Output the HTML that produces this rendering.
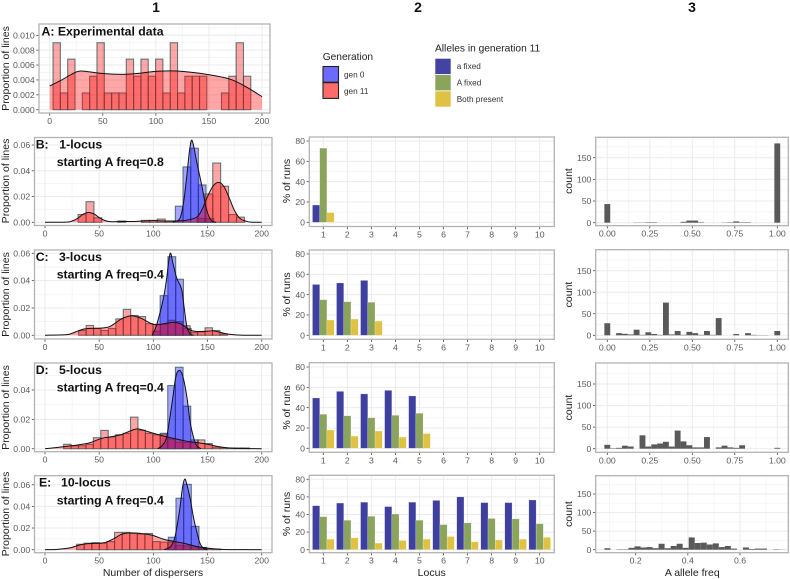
<!DOCTYPE html>
<html>
<head>
<meta charset="utf-8">
<title>Dispersers chart</title>
<style>
html,body{margin:0;padding:0;background:#fff;}
svg{display:block;font-family:"Liberation Sans",sans-serif;filter:blur(0.3px);}
.hdr{font-size:14px;font-weight:bold;fill:#111;text-anchor:middle;}
.lbl{font-size:12.27px;font-weight:bold;fill:#111;}
.axt{font-size:10.5px;fill:#222;text-anchor:middle;}
.tick{font-size:8.7px;fill:#5a5a5a;}
.legt{font-size:10.2px;fill:#222;}
.legl{font-size:8.2px;fill:#333;}
</style>
</head>
<body>
<svg id="chart" width="790" height="579" viewBox="0 0 790 579" xmlns="http://www.w3.org/2000/svg">
<rect x="0" y="0" width="790" height="579" fill="#fff"/>
<g id="marks"></g>

<text class="hdr" x="156" y="12">1</text>
<text class="hdr" x="418" y="12">2</text>
<text class="hdr" x="692" y="12">3</text>

<text class="lbl" x="41.5" y="35.5">A: Experimental data</text>
<text class="lbl" x="35.7" y="148.3">B:</text>
<text class="lbl" x="59.3" y="148.3">1-locus</text>
<text class="lbl" x="56.7" y="166">starting A freq=0.8</text>
<text class="lbl" x="35.7" y="261">C:</text>
<text class="lbl" x="59" y="261">3-locus</text>
<text class="lbl" x="56.7" y="278.3">starting A freq=0.4</text>
<text class="lbl" x="35.7" y="374">D:</text>
<text class="lbl" x="59" y="374">5-locus</text>
<text class="lbl" x="56.7" y="391.7">starting A freq=0.4</text>
<text class="lbl" x="39" y="486.7">E:</text>
<text class="lbl" x="61" y="486.7">10-locus</text>
<text class="lbl" x="56.7" y="504.3">starting A freq=0.4</text>

<text class="axt" transform="translate(9,68.5) rotate(-90)">Proportion of lines</text>
<text class="axt" transform="translate(9,181) rotate(-90)">Proportion of lines</text>
<text class="axt" transform="translate(9,294.5) rotate(-90)">Proportion of lines</text>
<text class="axt" transform="translate(9,407.5) rotate(-90)">Proportion of lines</text>
<text class="axt" transform="translate(9,514) rotate(-90)">Proportion of lines</text>

<text class="axt" transform="translate(290,181) rotate(-90)">% of runs</text>
<text class="axt" transform="translate(290,294.5) rotate(-90)">% of runs</text>
<text class="axt" transform="translate(290,407.5) rotate(-90)">% of runs</text>
<text class="axt" transform="translate(290,514) rotate(-90)">% of runs</text>

<text class="axt" transform="translate(572,181) rotate(-90)">count</text>
<text class="axt" transform="translate(572,294.5) rotate(-90)">count</text>
<text class="axt" transform="translate(572,407.5) rotate(-90)">count</text>
<text class="axt" transform="translate(572,514) rotate(-90)">count</text>

<text class="axt" x="153" y="576">Number of dispersers</text>
<text class="axt" x="431.7" y="576">Locus</text>
<text class="axt" x="692.3" y="576">A allele freq</text>

<g>
  <text class="legt" x="322.7" y="60">Generation</text>
  <rect x="323" y="66.5" width="15.5" height="15.7" fill="#6b6bff" stroke="#222" stroke-width="1.1"/>
  <rect x="323" y="82.7" width="15.5" height="15.7" fill="#ff6b6b" stroke="#222" stroke-width="1.1"/>
  <text class="legl" x="344" y="77.5">gen 0</text>
  <text class="legl" x="344" y="94">gen 11</text>
</g>
<g>
  <text class="legt" x="435" y="51.7">Alleles in generation 11</text>
  <rect x="435.3" y="58.7" width="15.4" height="15.4" fill="#4343a3"/>
  <rect x="435.3" y="75" width="15.4" height="15.4" fill="#8ba45c"/>
  <rect x="435.3" y="91.3" width="15.4" height="15.4" fill="#dfc243"/>
  <text class="legl" x="456.7" y="69.2">a fixed</text>
  <text class="legl" x="456.7" y="85.5">A fixed</text>
  <text class="legl" x="456.7" y="101.8">Both present</text>
</g>
</svg>

<script>
// ---- Column 1 tick labels ----
var dispersalTicks = [0, 50, 100, 150, 200];
var propTicksA = [0, 0.002, 0.004, 0.006, 0.008, 0.01];
var propTicksBCE = [0, 0.02, 0.04, 0.06];
var propTicksD = [0, 0.02, 0.04];

// ---- Column 1 histograms (bin start, bin width, heights) ----
var histAStart = 3.14, histAWidth = 6.9;
var histAGen11 = [0.009,0.00225,0.0068,0,0.00225,0.0045,0.009,0.00225,0.00225,0.00225,0.0068,0.0045,0.0068,0.0045,0.0068,0.00225,0.009,0.00225,0.0045,0.0045,0.0045,null,0,0.00225,0.0045,0.009,0.0045,0];

var histBGen0Start = 120.3, histBGen0Width = 7.08;
var histBGen0 = [0.0125,0.043,0.0575,0.029,0.003];
var histBGen11Start = 30.54, histBGen11Width = 7.31;
var histBGen11 = [0.006,0.016,0.0035,0,0,0.001,0,0,0.0015,0.0015,0.0025,0.001,0,0,0,0.003,0.022,0.046,0.028,0.006,0.004];

var histCGen0Start = 99.1, histCGen0Width = 7.17;
var histCGen0 = [0.003,0.029,0.0575,0.041,0.005];
var histCGen11Start = 31.08, histCGen11Width = 6.86;
var histCGen11 = [0.0035,0.0072,0.005,0.0035,0.005,0.012,0.019,0.0145,0.0137,0.0085,0.008,0.008,0.011,0.01,0.007,0.002,0.0025,0.0055,0.0035,0.001];

var histDGen0Start = 106.2, histDGen0Width = 7.08;
var histDGen0 = [0.01,0.043,0.0555,0.029,0.006];
var histDGen11Start = 17.2, histDGen11Width = 6.86;
var histDGen11 = [0.003,0.002,0.002,0.003,0.0075,0.0125,0.008,0.0095,0.0105,0.0215,0.0125,0.0105,0.0095,0.0105,0.0065,0.0045,0.0042,0.0042,0.006,0.0035,0.001,0.0005,0.0005,0.0005,0.0005];

var histEGen0Start = 113.8, histEGen0Width = 7.08;
var histEGen0 = [0.0115,0.0475,0.0603,0.0215,0.002];
var histEGen11Start = 29.2, histEGen11Width = 7.0;
var histEGen11 = [0.005,0.006,0.0065,0.006,0.0075,0.016,0.016,0.015,0.0145,0.015,0.0075,0.007,0.007,0.004,0.0035,0.0025,0.0015,0.0005,0.0005];

// ---- Column 1 density curves ----
var densAX = [0,10,20,29,47,69,85,100,120,148,170,186,200];
var densAY = [0.0032,0.0039,0.0047,0.0052,0.0049,0.00475,0.0049,0.00515,0.0052,0.00475,0.0041,0.003,0.00175];

var densBGen0X = [118,122,125,128,131,133,135,137,140,144.6,148,150.7,154,158];
var densBGen0Y = [0,0.001,0.004,0.016,0.037,0.053,0.0634,0.06,0.047,0.029,0.014,0.0057,0.001,0];
var densBGen11X = [0,20,25,30,35,40,45,50,55,60,70,80,90,100,110,120,130,140,145,150,155,160,165,170,175,180,185,190,200];
var densBGen11Y = [0,0.0001,0.001,0.003,0.0062,0.0076,0.0066,0.0037,0.0015,0.0005,0.0006,0.0006,0.001,0.0013,0.001,0.001,0.0015,0.004,0.01,0.02,0.028,0.031,0.028,0.019,0.009,0.003,0.001,0.0001,0];

var densCGen0X = [99,103,109,112,115.4,118,121.5,126,128.5,131,134,137];
var densCGen0Y = [0,0.0075,0.026,0.04,0.0597,0.053,0.042,0.034,0.02,0.006,0.001,0];
var densCGen11X = [0,20,25,30,35,40,50,55,60,65,70,75,80,85,90,95,100,105,110,115,120,125,130,135,140,150,155,160,165,170,180,200];
var densCGen11Y = [0,0.0005,0.0015,0.003,0.0044,0.005,0.0052,0.0055,0.0065,0.009,0.0118,0.0135,0.0143,0.0135,0.012,0.0098,0.008,0.0078,0.0085,0.0092,0.0095,0.0085,0.0058,0.0035,0.0028,0.003,0.0033,0.0025,0.0015,0.0008,0.0001,0];

var densDGen0X = [104,108,112,115,118,120,122,125,128,131,134,137,140,144];
var densDGen0Y = [0,0.002,0.007,0.02,0.035,0.046,0.052,0.053,0.047,0.035,0.018,0.008,0.002,0];
var densDGen11X = [0,10,20,30,40,45,50,55,60,70,75,80,85,90,100,110,120,130,140,150,160,170,180,200];
var densDGen11Y = [0,0.0007,0.0016,0.0025,0.0038,0.005,0.0065,0.0075,0.008,0.0095,0.011,0.0125,0.0135,0.0128,0.0105,0.0085,0.0068,0.0052,0.0042,0.003,0.0014,0.0005,0.0002,0];

var densEGen0X = [110,116,120,124,127,129,131,134,137,140,143,146,150];
var densEGen0Y = [0,0.003,0.012,0.035,0.058,0.0652,0.06,0.047,0.03,0.017,0.006,0.0015,0];
var densEGen11X = [0,10,20,25,30,35,40,50,55,60,65,70,75,80,90,100,110,120,130,140,150,160,170,200];
var densEGen11Y = [0,0.0002,0.0012,0.0022,0.0038,0.005,0.0056,0.006,0.0065,0.0085,0.011,0.014,0.0153,0.0155,0.0148,0.013,0.0095,0.0075,0.0055,0.003,0.0015,0.0005,0.0001,0];

// ---- Column 2 bars (% of runs by locus) ----
var locusTicks = [1,2,3,4,5,6,7,8,9,10];
var runsTicks = [0,20,40,60,80];
var runsBLow = [17];
var runsBHigh = [73];
var runsBBoth = [9.5];
var runsCLow = [50,51.5,54];
var runsCHigh = [35,33,32.5];
var runsCBoth = [15,16,14];
var runsDLow = [49.5,56,53.5,57,51.5];
var runsDHigh = [33.5,32,30,32.5,34.5];
var runsDBoth = [18,12,17,11,14.5];
var runsELow = [50,53,54,49,54,56,60,53.5,53.5,56.5];
var runsEHigh = [37.5,33.5,38,40.5,33.5,28.5,30.5,35.5,35,29.5];
var runsEBoth = [12,13.5,7.5,10.5,12,15,9,11,12,14];

// ---- Column 3 histograms ----
var countTicks = [0,50,100,150];
var freqTicks = [0,0.25,0.5,0.75,1];
var freqTickLabels = ['0.00','0.25','0.50','0.75','1.00'];
var freqTicksE = [0.2,0.4,0.6];
var freqTickLabelsE = ['0.2','0.4','0.6'];
var freqBin = 0.03448;
var freqBinStart = 0;
var freqCountsB = [43,0,0,0,0,0.5,0.5,1,1,0,0,0,0,2,5,5,1,0,0,0,0.5,1,3,1,1,0,0,0,0,183];
var freqCountsC = [28,0,5,3.5,2,13,1,7,3,1,76,2,10,1,8,5,1,10,1,40,0,0,3,0,5,1,0.5,0.5,0,10];
var freqCountsD = [9,1,2,7,5,0,31,5,10,12,16,5,42,17,8,3,3,27,0,3,7,3,2,8,0,0,0,0,0,2];
var freqBinE = 0.0231;
var freqBinStartE = 0.0914;
var freqCountsE = [4,0,1,1,5,9,6,7,4,16,4,10,16,5,33,18,19,14,17,7,10,3,0,6,2,3,3,0,1,0.5];

var SVGNS = 'http://www.w3.org/2000/svg';
var root = document.getElementById('marks');

function linear(d0, d1, p0, p1) {
  return function (v) { return p0 + (v - d0) * (p1 - p0) / (d1 - d0); };
}
function node(tag, attrs, parent) {
  var el = document.createElementNS(SVGNS, tag);
  for (var k in attrs) { el.setAttribute(k, attrs[k]); }
  (parent || root).appendChild(el);
  return el;
}
function midpoints(ticks) {
  var out = [];
  var step = ticks[1] - ticks[0];
  for (var i = -1; i < ticks.length + 1; i++) {
    out.push(ticks[0] + (i + 0.5) * step);
  }
  return out;
}
function frame(box, sx, sy, xTicks, xLabels, yTicks, yLabels) {
  var g = node('g', {});
  
  
  var bg = node('rect', {x: box.l, y: box.t, width: box.r - box.l, height: box.b - box.t, fill: '#fff'}, g);
  
  
  midpoints(yTicks).forEach(function (v) {
    var y = sy(v);
    if (y <= box.t || y >= box.b) return;
    var el = node('line', {x1: box.l, x2: box.r, y1: y, y2: y, stroke: '#f2f2f2', 'stroke-width': 0.7}, g);
    
    
  });
  midpoints(xTicks).forEach(function (v) {
    if (box.noMinorX) return;
    var x = sx(v);
    if (x <= box.l || x >= box.r) return;
    var el = node('line', {x1: x, x2: x, y1: box.t, y2: box.b, stroke: '#f2f2f2', 'stroke-width': 0.7}, g);
    
    
  });
  yTicks.forEach(function (v, i) {
    var y = sy(v);
    var el = node('line', {x1: box.l, x2: box.r, y1: y, y2: y, stroke: '#ebebeb', 'stroke-width': 1}, g);
    
    
    var t = node('line', {x1: box.l - 2.7, x2: box.l, y1: y, y2: y, stroke: '#444', 'stroke-width': 0.8}, g);
    
    
    var s = node('text', {x: box.l - 4.3, y: y + 3.1, 'text-anchor': 'end', 'class': 'tick'}, g);
    
    
    s.textContent = yLabels[i];
  });
  xTicks.forEach(function (v, i) {
    var x = sx(v);
    var el = node('line', {x1: x, x2: x, y1: box.t, y2: box.b, stroke: '#ebebeb', 'stroke-width': 1}, g);
    
    
    var t = node('line', {x1: x, x2: x, y1: box.b, y2: box.b + 2.7, stroke: '#444', 'stroke-width': 0.8}, g);
    
    
    var s = node('text', {x: x, y: box.b + 11, 'text-anchor': 'middle', 'class': 'tick'}, g);
    
    
    s.textContent = xLabels[i];
  });
  return g;
}
function border(box, g) {
  var el = node('rect', {x: box.l, y: box.t, width: box.r - box.l, height: box.b - box.t, fill: 'none', stroke: '#b3b3b3', 'stroke-width': 1.3}, g);
  
  
}
function curve(xs, ys, sx, sy) {
  var p = xs.map(function (x, i) { return [sx(x), sy(ys[i])]; });
  var d = 'M' + p[0][0] + ',' + p[0][1];
  for (var i = 0; i < p.length - 1; i++) {
    var a = p[Math.max(i - 1, 0)], b = p[i], c = p[i + 1], e = p[Math.min(i + 2, p.length - 1)];
    var k = 1 / 6;
    d += 'C' + (b[0] + (c[0] - a[0]) * k) + ',' + (b[1] + (c[1] - a[1]) * k) + ' ' +
         (c[0] - (e[0] - b[0]) * k) + ',' + (c[1] - (e[1] - b[1]) * k) + ' ' + c[0] + ',' + c[1];
  }
  return d;
}
function hist(g, start, width, values, color, sx, sy) {
  values.forEach(function (v, i) {
    if (v === null) return;
    var x0 = sx(start + i * width), x1 = sx(start + (i + 1) * width);
    var el = node('rect', {x: x0, y: sy(v), width: x1 - x0, height: sy(0) - sy(v),
      fill: color, 'fill-opacity': 0.35, stroke: '#2f5658', 'stroke-opacity': 0.75, 'stroke-width': 1.1}, g);
    
    
  });
}
function densityArea(g, xs, ys, color, sx, sy) {
  var top = curve(xs, ys, sx, sy);
  var area = node('path', {d: top + 'L' + sx(xs[xs.length - 1]) + ',' + sy(0) + 'L' + sx(xs[0]) + ',' + sy(0) + 'Z',
    fill: color, 'fill-opacity': 0.35, stroke: 'none'}, g);
  
  
}
function densityLine(g, xs, ys, sx, sy) {
  var line = node('path', {d: curve(xs, ys, sx, sy), fill: 'none', stroke: '#111', 'stroke-width': 1}, g);
  
  
}
function fixed(values, digits) {
  return values.map(function (v) { return v.toFixed(digits); });
}

// Column 1
function distPanel(box, y0, yRefVal, yRefPx, x0, x200, yTicks, digits, g0, g11) {
  var sx = linear(0, 200, x0, x200);
  var sy = linear(0, yRefVal, y0, yRefPx);
  var g = frame(box, sx, sy, dispersalTicks, dispersalTicks, yTicks, fixed(yTicks, digits));
  if (g0) {
    hist(g, g0.start, g0.width, g0.values, '#0000ff', sx, sy);
  }
  hist(g, g11.start, g11.width, g11.values, '#ff0000', sx, sy);
  if (g0) {
    densityArea(g, g0.dx, g0.dy, '#0000ff', sx, sy);
  }
  densityArea(g, g11.dx, g11.dy, '#ff0000', sx, sy);
  if (g0) {
    densityLine(g, g0.dx, g0.dy, sx, sy);
  }
  densityLine(g, g11.dx, g11.dy, sx, sy);
  border(box, g);
}
distPanel({id: 'a', l: 39, r: 270, t: 24, b: 113}, 109.7, 0.01, 35.3, 49.7, 262, propTicksA, 3, null,
  {start: histAStart, width: histAWidth, values: histAGen11, dx: densAX, dy: densAY});
distPanel({id: 'b', l: 34.5, r: 272, t: 137.5, b: 225.5}, 222.3, 0.06, 145, 45, 261.7, propTicksBCE, 2,
  {start: histBGen0Start, width: histBGen0Width, values: histBGen0, dx: densBGen0X, dy: densBGen0Y},
  {start: histBGen11Start, width: histBGen11Width, values: histBGen11, dx: densBGen11X, dy: densBGen11Y});
distPanel({id: 'c', l: 34.5, r: 272, t: 250, b: 339}, 335.3, 0.06, 253.3, 45, 261.7, propTicksBCE, 2,
  {start: histCGen0Start, width: histCGen0Width, values: histCGen0, dx: densCGen0X, dy: densCGen0Y},
  {start: histCGen11Start, width: histCGen11Width, values: histCGen11, dx: densCGen11X, dy: densCGen11Y});
distPanel({id: 'd', l: 34.5, r: 272, t: 363, b: 451.7}, 448.7, 0.04, 390, 45, 261.7, propTicksD, 2,
  {start: histDGen0Start, width: histDGen0Width, values: histDGen0, dx: densDGen0X, dy: densDGen0Y},
  {start: histDGen11Start, width: histDGen11Width, values: histDGen11, dx: densDGen11X, dy: densDGen11Y});
distPanel({id: 'e', l: 34.5, r: 272, t: 475.7, b: 552.7}, 549.7, 0.06, 484.7, 45, 261.7, propTicksBCE, 2,
  {start: histEGen0Start, width: histEGen0Width, values: histEGen0, dx: densEGen0X, dy: densEGen0Y},
  {start: histEGen11Start, width: histEGen11Width, values: histEGen11, dx: densEGen11X, dy: densEGen11Y});

// Column 2
function runsPanel(box, y0, y80, low, high, both) {
  var sx = linear(1, 10, 323.3, 539.7);
  var sy = linear(0, 80, y0, y80);
  box.noMinorX = true;
  var g = frame(box, sx, sy, locusTicks, locusTicks, runsTicks, runsTicks);
  var step = sx(2) - sx(1);
  var w = step * 0.3;
  [[low, '#3f3fa0', 0], [high, '#8ba45c', 1], [both, '#dfc243', 2]].forEach(function (s) {
    s[0].forEach(function (v, i) {
      var el = node('rect', {x: sx(i + 1) + (s[2] - 1.5) * w, y: sy(v), width: w, height: sy(0) - sy(v),
        fill: s[1], stroke: '#fff', 'stroke-opacity': 0.5, 'stroke-width': 0.4}, g);
      
      
    });
  });
  border(box, g);
}
runsPanel({id: 'runs-b', l: 309.3, r: 554.3, t: 137, b: 226.5}, 222.3, 141, runsBLow, runsBHigh, runsBBoth);
runsPanel({id: 'runs-c', l: 309.3, r: 554.3, t: 250, b: 339.3}, 335.3, 254, runsCLow, runsCHigh, runsCBoth);
runsPanel({id: 'runs-d', l: 309.3, r: 554.3, t: 362.7, b: 452.3}, 448.3, 367, runsDLow, runsDHigh, runsDBoth);
runsPanel({id: 'runs-e', l: 309.3, r: 554.3, t: 475.3, b: 552.7}, 549.7, 479.3, runsELow, runsEHigh, runsEBoth);

// Column 3
function freqPanel(box, y0, y150, sx, ticks, labels, start, bin, counts) {
  var sy = linear(0, 150, y0, y150);
  var g = frame(box, sx, sy, ticks, labels, countTicks, countTicks);
  var w = Math.abs(sx(bin) - sx(0));
  counts.forEach(function (c, i) {
    if (!c) return;
    var cx = sx(start + i * bin);
    var el = node('rect', {x: cx - w / 2, y: sy(c), width: w, height: sy(0) - sy(c), fill: '#595959'}, g);
    
    
  });
  border(box, g);
}
var sxFreq = linear(0, 1, 607.3, 777.3);
var sxFreqE = linear(0.2, 0.6, 635.7, 740);
freqPanel({id: 'freq-b', l: 595.7, r: 788.3, t: 137.3, b: 225.7}, 222.7, 157.7, sxFreq, freqTicks, freqTickLabels, freqBinStart, freqBin, freqCountsB);
freqPanel({id: 'freq-c', l: 595.7, r: 788.3, t: 249.7, b: 339.3}, 335.3, 270.7, sxFreq, freqTicks, freqTickLabels, freqBinStart, freqBin, freqCountsC);
freqPanel({id: 'freq-d', l: 595.7, r: 788.3, t: 363, b: 452.3}, 448.7, 384, sxFreq, freqTicks, freqTickLabels, freqBinStart, freqBin, freqCountsD);
freqPanel({id: 'freq-e', l: 595.7, r: 788.3, t: 475.7, b: 552.7}, 549.7, 494, sxFreqE, freqTicksE, freqTickLabelsE, freqBinStartE, freqBinE, freqCountsE);
</script>
</body>
</html>
